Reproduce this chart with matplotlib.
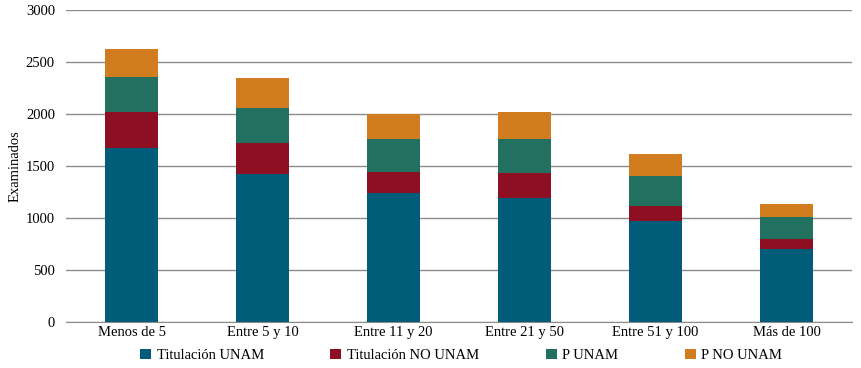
import numpy as np
import matplotlib.pyplot as plt
from matplotlib.patches import Patch

# categorias (años de egreso) y examinados por grupo
categorias = ['Menos de 5', 'Entre 5 y 10', 'Entre 11 y 20', 'Entre 21 y 50', 'Entre 51 y 100', 'Más de 100']
titulacion_unam = [1676, 1426, 1240, 1195, 971, 702]
titulacion_no_unam = [343, 295, 205, 238, 144, 96]
p_unam = [337, 337, 315, 327, 289, 212]
p_no_unam = [269, 288, 240, 259, 211, 125]

series = [('Titulación UNAM', titulacion_unam, '#005c78'),
          ('Titulación NO UNAM', titulacion_no_unam, '#8e0e22'),
          ('P UNAM', p_unam, '#217060'),
          ('P NO UNAM', p_no_unam, '#d17d1f')]

plt.rcParams['font.family'] = ['Liberation Serif', 'DejaVu Serif']

fig, ax = plt.subplots(figsize=(8.62, 3.68), dpi=100)
fig.subplots_adjust(left=0.0766, right=0.9884, top=0.9728, bottom=0.125)

x = np.arange(len(categorias))
base = np.zeros(len(categorias))
handles = []
for nombre, valores, color in series:
    ax.bar(x, valores, width=0.405, bottom=base, color=color, zorder=3)
    base += np.array(valores)
    handles.append(Patch(facecolor=color, label=nombre))

ax.set_xlim(-0.5, len(categorias) - 0.5)
ax.set_ylim(0, 3000)
ax.set_yticks(np.arange(0, 3001, 500))
ax.set_xticks(x)
ax.set_xticklabels(categorias, fontsize=10.5)
ax.tick_params(axis='y', labelsize=10.5, length=0, pad=8)
ax.tick_params(axis='x', length=0, pad=3)
ax.yaxis.grid(True, color='#8c8c8c', linewidth=1, zorder=0)
for s in ['top', 'right', 'left']:
    ax.spines[s].set_visible(False)
ax.spines['bottom'].set_color('#8c8c8c')
ax.set_ylabel('Examinados', fontsize=10.5)
ax.yaxis.set_label_coords(-0.057, 0.5)

fig.legend(handles=handles, loc='lower center', bbox_to_anchor=(0.535, -0.02), ncol=4,
           frameon=False, fontsize=10.5, handlelength=0.75, handleheight=0.75,
           handletextpad=0.4, columnspacing=4.55)

plt.savefig('out.png', dpi=100)
